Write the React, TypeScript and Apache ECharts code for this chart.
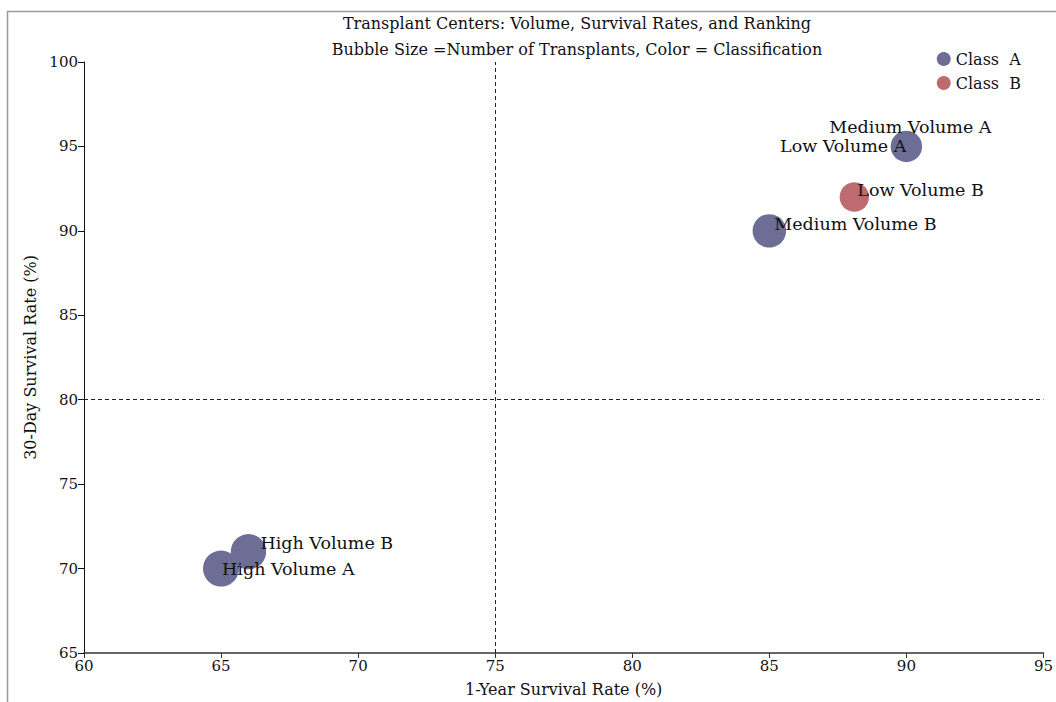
import React, { useEffect, useRef } from "react";
import * as echarts from "echarts";

const centers = ["High Volume A", "High Volume B", "Medium Volume B", "Low Volume B", "Medium Volume A", "Low Volume A"];
const oneYear = [65, 66, 85, 88.1, 90, 90];
const thirtyDay = [70, 71, 90, 92, 95, 95];
const transplants = [360, 345, 310, 240, 275, 180];
const classes = ["A", "A", "A", "B", "A", "A"];
const xTicks = [60, 65, 70, 75, 80, 85, 90, 95];
const yTicks = [65, 70, 75, 80, 85, 90, 95, 100];

const FONT = "DejaVu Serif";
const labelStyles: Record<string, any> = {
  "High Volume A": { align: "left", offset: [1, 0] },
  "High Volume B": { align: "left", offset: [12, -9] },
  "Medium Volume B": { align: "left", offset: [5, -7] },
  "Low Volume B": { align: "left", offset: [3, -7] },
  "Medium Volume A": { align: "center", offset: [4, -19] },
  "Low Volume A": { align: "right", offset: [0, 0] },
};

function seriesData(cls: string) {
  const out: any[] = [];
  centers.forEach((n, i) => {
    if (classes[i] !== cls) return;
    const ls = labelStyles[n];
    out.push({
      name: n,
      value: [oneYear[i], thirtyDay[i], transplants[i]],
      label: {
        show: true,
        position: "inside",
        formatter: n,
        align: ls.align,
        verticalAlign: "middle",
        offset: ls.offset,
        color: "#111",
        fontFamily: FONT,
        fontSize: 17.5,
      },
    });
  });
  return out;
}

export default function App() {
  const ref = useRef<HTMLDivElement>(null);
  useEffect(() => {
    const chart = echarts.init(ref.current!, null, { renderer: "svg" });
    const sizeFn = (v: number[]) => 1.9 * Math.sqrt(v[2]);
    chart.setOption({
      animation: false,
      backgroundColor: "#fff",
      textStyle: { fontFamily: FONT },
      grid: { left: 84, right: 11, top: 62, bottom: 46 },
      graphic: [
        {
          type: "rect",
          shape: { x: 7.5, y: 11.5, width: 1100, height: 800 },
          style: { fill: "none", stroke: "#999", lineWidth: 1.5 },
          silent: true,
          z: -10,
        },
        {
          type: "text",
          x: 577,
          y: 23,
          style: {
            text: "Transplant Centers: Volume, Survival Rates, and Ranking",
            fontFamily: FONT,
            fontSize: 16,
            fill: "#111",
            textAlign: "center",
            textVerticalAlign: "middle",
          },
        },
        {
          type: "text",
          x: 577,
          y: 49,
          style: {
            text: "Bubble Size =Number of Transplants, Color = Classification",
            fontFamily: FONT,
            fontSize: 16,
            fill: "#111",
            textAlign: "center",
            textVerticalAlign: "middle",
          },
        },
      ],
      legend: {
        right: 30,
        top: 46,
        orient: "vertical",
        icon: "circle",
        itemWidth: 14,
        itemHeight: 14,
        itemGap: 8,
        textStyle: { fontFamily: FONT, fontSize: 16, color: "#111" },
        data: ["Class  A", "Class  B"],
      },
      xAxis: {
        type: "value",
        min: 60,
        max: 95,
        interval: 5,
        name: "1-Year Survival Rate (%)",
        nameLocation: "middle",
        nameGap: 28,
        nameTextStyle: { fontFamily: FONT, fontSize: 16, color: "#111" },
        axisLine: { show: true, onZero: false, lineStyle: { color: "#333", width: 1.6 } },
        axisTick: { show: true, length: 5, lineStyle: { color: "#333" } },
        axisLabel: { margin: 5, fontFamily: FONT, fontSize: 15, color: "#111" },
        splitLine: { show: false },
      },
      yAxis: {
        type: "value",
        min: 65,
        max: 100,
        interval: 5,
        name: "30-Day Survival Rate (%)",
        nameLocation: "middle",
        nameGap: 42,
        nameTextStyle: { fontFamily: FONT, fontSize: 16, color: "#111" },
        axisLine: { show: true, onZero: false, lineStyle: { color: "#111", width: 1 } },
        axisTick: { show: true, length: 6, lineStyle: { color: "#111" } },
        axisLabel: { margin: 6, fontFamily: FONT, fontSize: 15, color: "#111" },
        splitLine: { show: false },
      },
      series: [
        {
          name: "Class  A",
          type: "scatter",
          symbolSize: sizeFn,
          itemStyle: { color: "#6d6d95", opacity: 1 },
          data: seriesData("A"),
          markLine: {
            silent: true,
            symbol: "none",
            label: { show: false },
            lineStyle: { color: "#222", type: [4, 3], width: 1 },
            data: [{ xAxis: 75 }, { yAxis: 80 }],
          },
          z: 3,
        },
        {
          name: "Class  B",
          type: "scatter",
          symbolSize: sizeFn,
          itemStyle: { color: "#bd6b70", opacity: 1 },
          data: seriesData("B"),
          z: 3,
        },
      ],
    });
    return () => chart.dispose();
  }, []);
  return (
    <div
      ref={ref}
      style={{ position: "absolute", left: 0, top: 0, width: 1056, height: 702 }}
    />
  );
}
